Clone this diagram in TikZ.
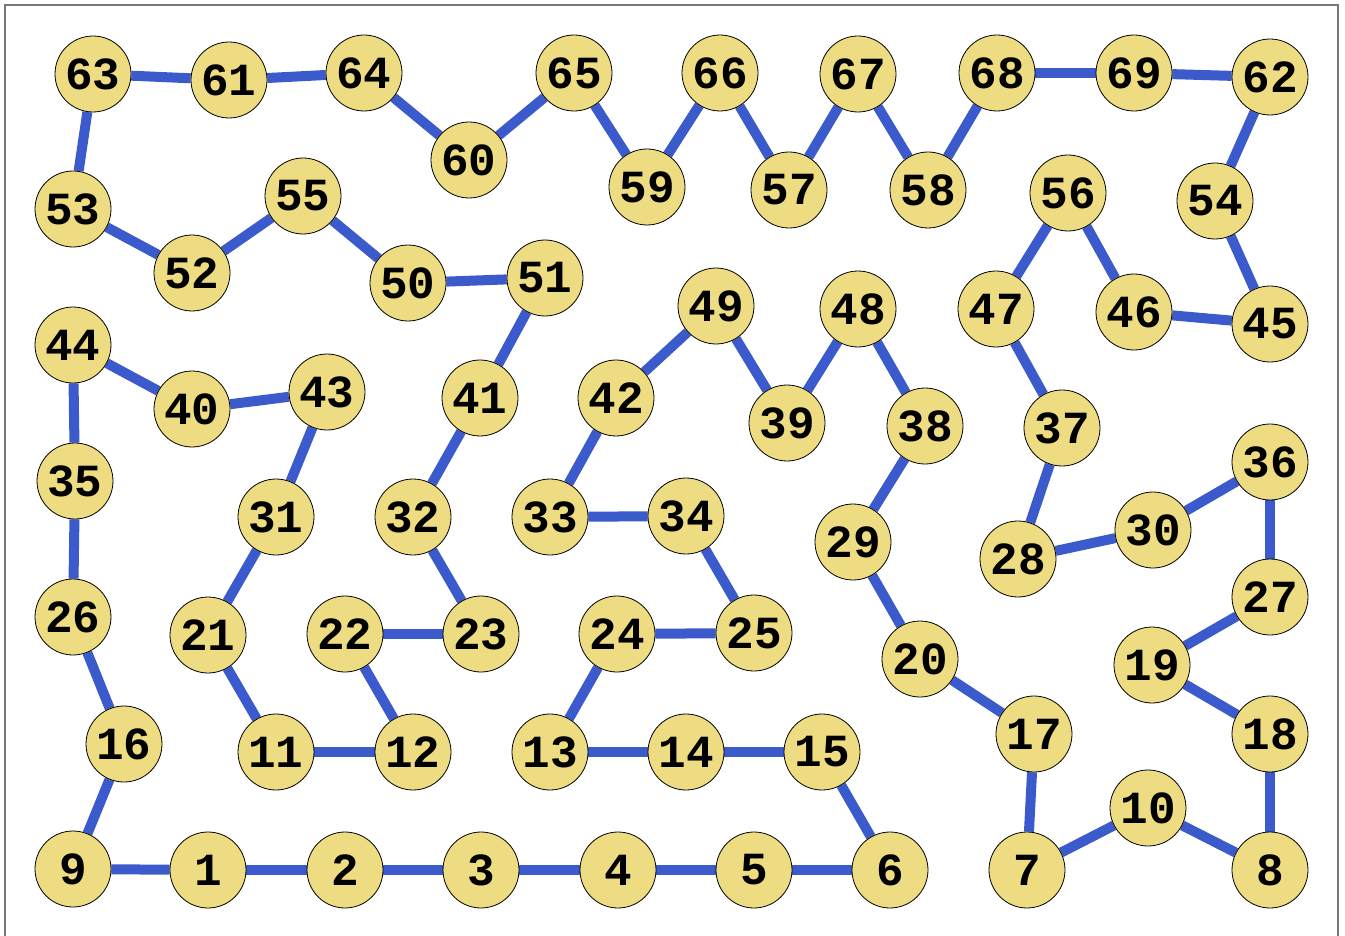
\documentclass[tikz,border=0pt]{standalone}
\usepackage{fontspec}
\newfontfamily\numfont{Liberation Mono}
\usetikzlibrary{backgrounds}
\definecolor{nodefill}{RGB}{238,220,130}
\definecolor{edgeblue}{RGB}{59,91,204}
\definecolor{framegray}{RGB}{120,120,120}
\tikzset{
  vtx/.style={circle,draw=black,line width=0.8pt,fill=nodefill,minimum size=76pt,inner sep=0pt,
    font=\numfont\bfseries\fontsize{46}{46}\selectfont},
  edg/.style={draw=edgeblue,line width=10pt}
}
\begin{document}
\begin{tikzpicture}[x=1pt,y=-1pt]
\useasboundingbox (0,0) rectangle (1345,936);
\draw[framegray,line width=1.5pt] (5,940) -- (5,5) -- (1338,5) -- (1338,940);
\foreach \n/\x/\y in {9/73/869,1/208/870,2/345/870,3/481/870,4/618/870,5/754/870,6/890/870,7/1027/870,10/1148/808,8/1270/870,
16/124/744,26/73/617,35/75/481,44/73/345,40/192/409,43/327/392,31/276/517,21/208/635,11/276/752,12/413/752,22/345/634,23/481/634,32/413/517,41/480/398,51/545/278,50/408/283,55/303/196,52/192/273,53/73/209,
63/93/74,61/229/80,64/364/73,60/469/160,65/574/73,59/647/187,66/720/73,57/789/190,67/858/74,58/928/190,68/997/73,69/1134/73,62/1270/77,
54/1215/201,45/1270/324,46/1134/312,56/1068/193,47/996/309,37/1062/428,28/1018/559,30/1153/530,36/1270/462,27/1270/597,19/1152/665,18/1270/734,
17/1034/734,20/920/659,29/853/542,38/925/426,48/858/309,39/787/423,49/716/306,42/616/398,33/550/517,34/686/516,25/754/633,24/617/634,13/550/752,14/686/752,15/822/752}
  \node[vtx] (n\n) at (\x,\y) {\n};
\begin{scope}[on background layer]
\foreach \a/\b in {63/61,61/64,64/60,60/65,65/59,59/66,66/57,57/67,67/58,58/68,68/69,69/62,62/54,54/45,45/46,46/56,56/47,47/37,37/28,28/30,30/36,36/27,27/19,19/18,18/8,8/10,10/7,7/17,17/20,20/29,29/38,38/48,48/39,39/49,49/42,42/33,33/34,34/25,25/24,24/13,13/14,14/15,15/6,6/5,5/4,4/3,3/2,2/1,1/9,9/16,16/26,26/35,35/44,44/40,40/43,43/31,31/21,21/11,11/12,12/22,22/23,23/32,32/41,41/51,51/50,50/55,55/52,52/53,53/63}
  \draw[edg] (n\a) -- (n\b);
\end{scope}
\end{tikzpicture}
\end{document}
